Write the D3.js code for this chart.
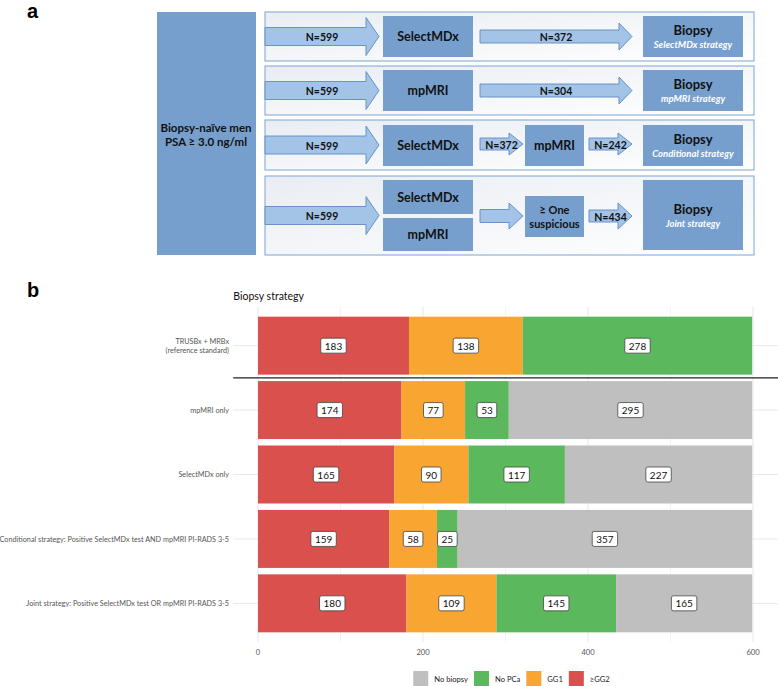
<!DOCTYPE html>
<html lang="en">
<head>
<meta charset="UTF-8">
<title>Biopsy strategies</title>
<script src="https://d3js.org/d3.v7.min.js"></script>
<style>
  body { margin: 0; background: #fff; }
  svg { display: block; }
  .panel-tag { font-family: Arial, "Liberation Sans", sans-serif; font-weight: bold; font-size: 20px; fill: #000; }
  .flow { font-family: Lato, "Open Sans", sans-serif; font-weight: bold; fill: #111; }
  .flow-sub { font-family: Lato, "Open Sans", sans-serif; font-weight: bold; font-style: italic; fill: #fff; font-size: 9.5px; }
  .chart { font-family: Lato, "Open Sans", sans-serif; }
</style>
</head>
<body>
<svg width="778" height="686"></svg>
<script>
// ---- panel a: flow texts and counts
const startLabel = ["Biopsy-naïve men", "PSA ≥ 3.0 ng/ml"];
const enrolled = [599, 599, 599, 599];
const strategyNames = ["SelectMDx strategy", "mpMRI strategy", "Conditional strategy", "Joint strategy"];
const directCounts = [372, 304];          // SelectMDx only, mpMRI only
const conditionalCounts = [372, 242];     // after SelectMDx, after mpMRI
const jointCount = 434;

// ---- panel b: stacked bars
const categories = [
  "TRUSBx + MRBx\n(reference standard)",
  "mpMRI only",
  "SelectMDx only",
  "Conditional strategy: Positive SelectMDx test AND mpMRI PI-RADS 3-5",
  "Joint strategy: Positive SelectMDx test OR mpMRI PI-RADS 3-5"
];
const gg2      = [183, 174, 165, 159, 180];
const gg1      = [138,  77,  90,  58, 109];
const noPCa    = [278,  53, 117,  25, 145];
const noBiopsy = [  0, 295, 227, 357, 165];
const seriesKeys = ["≥GG2", "GG1", "No PCa", "No biopsy"];
const seriesColors = ["#d9504d", "#f8a532", "#5cb85c", "#bfbfbf"];
const xTicks = [0, 200, 400, 600];

const svg = d3.select("svg");

// ================= panel a =================
svg.append("text").attr("class", "panel-tag").attr("x", 27).attr("y", 17.5)
  .attr("font-size", 19).text("a");

const boxFill = "#779fcd";
const arrowFill = "#a3c3e7";
const arrowStroke = "#5c8ac4";

const defs = svg.append("defs");
const grad = defs.append("linearGradient").attr("id", "rowgrad").attr("x1", "0").attr("x2", "1").attr("y1", "0").attr("y2", "1");
grad.append("stop").attr("offset", "0").attr("stop-color", "#e9edf3");
grad.append("stop").attr("offset", "1").attr("stop-color", "#ffffff");

const gA = svg.append("g");

function box(x0, y0, x1, y1) {
  gA.append("rect").attr("x", x0).attr("y", y0).attr("width", x1 - x0).attr("height", y1 - y0)
    .attr("fill", boxFill);
}
function label(x, y, txt, size, cls) {
  gA.append("text").attr("class", cls || "flow").attr("x", x).attr("y", y)
    .attr("text-anchor", "middle").attr("dominant-baseline", "central")
    .attr("font-size", size).text(txt);
}
function arrow(x0, x1, cy, bh, hh, hl, txt) {
  const p = d3.path();
  p.moveTo(x0, cy - bh / 2);
  p.lineTo(x1 - hl, cy - bh / 2);
  p.lineTo(x1 - hl, cy - hh / 2);
  p.lineTo(x1, cy);
  p.lineTo(x1 - hl, cy + hh / 2);
  p.lineTo(x1 - hl, cy + bh / 2);
  p.lineTo(x0, cy + bh / 2);
  p.closePath();
  gA.append("path").attr("d", p.toString()).attr("fill", arrowFill)
    .attr("stroke", arrowStroke).attr("stroke-width", 0.9);
  if (txt) label((x0 + x1) / 2, cy + 0.5, txt, 10.5);
}

// start box
box(157, 12, 256, 255);
label(206, 127, startLabel[0], 11.5);
label(206, 141, startLabel[1], 11.5);

// row frames
const rows = [[12, 61], [66, 115], [120, 170], [176, 255]];
rows.forEach(r => {
  gA.append("rect").attr("x", 265).attr("y", r[0]).attr("width", 489).attr("height", r[1] - r[0])
    .attr("fill", "url(#rowgrad)").attr("stroke", "#86abd9").attr("stroke-width", 1.1);
});

// N=599 arrows
rows.forEach((r, i) => {
  const cy = (r[0] + r[1]) / 2;
  arrow(265, 379, cy, 18, 38, 13, "N=" + enrolled[i]);
});

function biopsy(y0, y1, i) {
  box(643, y0, 743, y1);
  const cy = (y0 + y1) / 2;
  label(693, cy - 7, "Biopsy", 13);
  label(693, cy + 7.5, strategyNames[i], 9.5, "flow-sub");
}

// row 1: SelectMDx
box(383, 16, 473, 57);
label(428, 36.5, "SelectMDx", 12.5);
arrow(480, 632, 36.5, 13, 27, 13, "N=" + directCounts[0]);
biopsy(16, 57, 0);

// row 2: mpMRI
box(383, 70, 473, 111);
label(428, 90.5, "mpMRI", 12.5);
arrow(480, 632, 90.5, 13, 27, 13, "N=" + directCounts[1]);
biopsy(70, 111, 1);

// row 3: conditional
box(383, 125, 473, 166);
label(428, 145.5, "SelectMDx", 12.5);
arrow(480, 523, 144, 12, 22, 14, "N=" + conditionalCounts[0]);
box(525, 125, 584, 166);
label(554.5, 145.5, "mpMRI", 12.5);
arrow(589, 632, 144, 12, 22, 14, "N=" + conditionalCounts[1]);
biopsy(125, 166, 2);

// row 4: joint
box(383, 180, 473, 214);
label(428, 197.5, "SelectMDx", 12.5);
box(383, 218, 473, 251);
label(428, 234.5, "mpMRI", 12.5);
arrow(480, 523, 216, 13, 26, 14, null);
box(525, 196, 584, 237);
label(554.5, 209.5, "≥ One", 11);
label(554.5, 223, "suspicious", 11);
arrow(589, 632, 216, 12, 26, 14, "N=" + jointCount);
box(643, 180, 743, 250);
label(693, 208.5, "Biopsy", 13);
label(693, 223, strategyNames[3], 9.5, "flow-sub");

// ================= panel b =================
svg.append("text").attr("class", "panel-tag").attr("x", 27).attr("y", 297).text("b");

const gB = svg.append("g").attr("class", "chart");

const x = d3.scaleLinear().domain([0, 600]).range([258, 753]);
const y = d3.scaleBand().domain(categories).range([307, 642]).paddingInner(0.1).paddingOuter(0.15);
const panelL = x(-30), panelR = x(630), panelT = 307, panelB = 642;

gB.append("text").attr("x", panelL).attr("y", 300).attr("font-size", 10.5).attr("fill", "#111")
  .text("Biopsy strategy");

// grid
const gridVals = d3.range(0, 601, 100);
gB.selectAll("line.vgrid").data(gridVals).join("line").attr("class", "vgrid")
  .attr("x1", d => x(d)).attr("x2", d => x(d)).attr("y1", panelT).attr("y2", panelB)
  .attr("stroke", d => d % 200 === 0 ? "#e8e8e8" : "#f0f0f0")
  .attr("stroke-width", d => d % 200 === 0 ? 1 : 0.8);
gB.selectAll("line.hgrid").data(categories).join("line").attr("class", "hgrid")
  .attr("x1", panelL).attr("x2", panelR)
  .attr("y1", d => y(d) + y.bandwidth() / 2).attr("y2", d => y(d) + y.bandwidth() / 2)
  .attr("stroke", "#e8e8e8").attr("stroke-width", 1);

// stacked data
const table = categories.map((c, i) => ({
  cat: c, "≥GG2": gg2[i], "GG1": gg1[i], "No PCa": noPCa[i], "No biopsy": noBiopsy[i]
}));
const stacked = d3.stack().keys(seriesKeys)(table);
const color = d3.scaleOrdinal().domain(seriesKeys).range(seriesColors);

const layers = gB.selectAll("g.layer").data(stacked).join("g").attr("class", "layer")
  .attr("fill", d => color(d.key));
layers.selectAll("rect").data(d => d).join("rect")
  .attr("x", d => x(d[0])).attr("width", d => x(d[1]) - x(d[0]))
  .attr("y", d => y(d.data.cat)).attr("height", y.bandwidth());

// separator under reference standard
const sepY = y(categories[0]) + y.bandwidth() + (y.step() - y.bandwidth()) / 2;
gB.append("line").attr("x1", panelL).attr("x2", 778).attr("y1", sepY).attr("y2", sepY)
  .attr("stroke", "#222").attr("stroke-width", 1.2);

// value labels
const labelData = [];
stacked.forEach(s => s.forEach(d => {
  const v = d[1] - d[0];
  if (v > 0) labelData.push({ v, cx: x((d[0] + d[1]) / 2), cy: y(d.data.cat) + y.bandwidth() / 2 });
}));
const lab = gB.selectAll("g.vlab").data(labelData).join("g").attr("class", "vlab")
  .attr("transform", d => `translate(${d.cx},${d.cy})`);
lab.append("text").attr("text-anchor", "middle").attr("dominant-baseline", "central")
  .attr("font-size", 10).attr("fill", "#111").text(d => d.v);
lab.each(function() {
  const g = d3.select(this);
  const w = g.select("text").node().getComputedTextLength() + 8;
  g.insert("rect", "text").attr("x", -w / 2).attr("y", -7.5).attr("width", w).attr("height", 15)
    .attr("rx", 2).attr("fill", "#fff").attr("stroke", "#444").attr("stroke-width", 0.8);
});

// y labels
gB.selectAll("text.ylab").data(categories).join("text").attr("class", "ylab")
  .attr("text-anchor", "end").attr("font-size", 7.25).attr("fill", "#555")
  .each(function(d) {
    const lines = d.split("\n");
    const cy = y(d) + y.bandwidth() / 2;
    const t = d3.select(this);
    lines.forEach((ln, i) => {
      t.append("tspan").attr("x", 229)
        .attr("y", cy + 2.6 + (i - (lines.length - 1) / 2) * 9.5).text(ln);
    });
  });

// x axis labels
gB.selectAll("text.xlab").data(xTicks).join("text").attr("class", "xlab")
  .attr("x", d => x(d)).attr("y", 655).attr("text-anchor", "middle")
  .attr("font-size", 7.6).attr("fill", "#555").text(d => d);

// legend (reverse order)
const legendKeys = seriesKeys.slice().reverse();
const leg = gB.append("g");
let lx = 0;
legendKeys.forEach(k => {
  const item = leg.append("g").attr("transform", `translate(${lx},0)`);
  item.append("rect").attr("width", 15).attr("height", 15).attr("fill", color(k));
  const t = item.append("text").attr("x", 21).attr("y", 10.5).attr("font-size", 7.6)
    .attr("fill", "#222").text(k);
  lx += 21 + t.node().getComputedTextLength() + 6;
});
const legW = lx - 6;
leg.attr("transform", `translate(${(panelL + panelR) / 2 - legW / 2 + 6},671)`);
</script>
</body>
</html>
